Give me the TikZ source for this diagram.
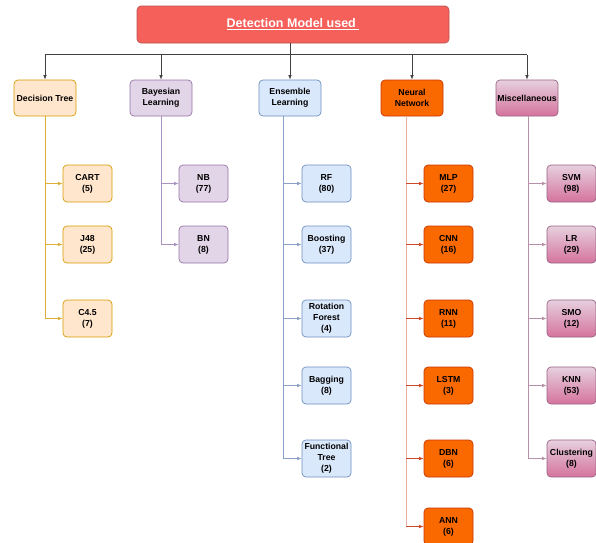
\documentclass[tikz,border=0pt]{standalone}
\usepackage{fontspec}
\setmainfont{Liberation Sans}
\usetikzlibrary{arrows.meta}
\definecolor{tfill}{HTML}{F6605A}
\definecolor{tdraw}{HTML}{B85450}
\definecolor{dtfill}{HTML}{FFE6CC}
\definecolor{dtdraw}{HTML}{D79B00}
\definecolor{dtline}{HTML}{DDAE3A}
\definecolor{blfill}{HTML}{E1D5E7}
\definecolor{bldraw}{HTML}{9673A6}
\definecolor{blline}{HTML}{A992C0}
\definecolor{elfill}{HTML}{DAE8FC}
\definecolor{eldraw}{HTML}{6C8EBF}
\definecolor{elline}{HTML}{8AA0C4}
\definecolor{nnfill}{HTML}{FA6800}
\definecolor{nndraw}{HTML}{C73500}
\definecolor{nntrunk}{HTML}{E8B0A0}
\definecolor{nnarrow}{HTML}{CC4A2A}
\definecolor{mctop}{HTML}{E6D0DE}
\definecolor{mcbot}{HTML}{D5739D}
\definecolor{mcdraw}{HTML}{996185}
\definecolor{mcline}{HTML}{B891A8}
\tikzset{
  box/.style={rectangle, rounded corners=4pt, inner sep=0pt, align=center, line width=0.7pt,
    font=\bfseries\fontsize{8.7}{11}\selectfont, text=black},
  cat/.style={box, minimum width=62pt, minimum height=36pt},
  leaf/.style={box, minimum width=49pt, minimum height=37pt},
  dtbox/.style={fill=dtfill, draw=dtdraw},
  blbox/.style={fill=blfill, draw=bldraw},
  elbox/.style={fill=elfill, draw=eldraw},
  nnbox/.style={fill=nnfill, draw=nndraw},
  mcbox/.style={top color=mctop, bottom color=mcbot, draw=mcdraw},
  conn/.style={line width=0.7pt},
  tip/.style={-{Latex[length=4.5pt,width=3.6pt]}},
}
\begin{document}
\begin{tikzpicture}[x=1pt,y=-1pt]
\useasboundingbox (0,0) rectangle (596,542);
% title
\node[box, fill=tfill, draw=tdraw, minimum width=312pt, minimum height=37pt, text=white,
  font=\bfseries\fontsize{12.5}{14}\selectfont] (title) at (293,24.5) {\underline{Detection Model used\ }};
% categories
\node[cat, dtbox] (dt) at (45,98) {Decision Tree};
\node[cat, blbox] (bl) at (161,98) {Bayesian\\Learning};
\node[cat, elbox] (el) at (290,98) {Ensemble\\Learning};
\node[cat, nnbox] (nn) at (412,98) {Neural\\Network};
\node[cat, mcbox] (mc) at (527,98) {Miscellaneous};
% leaves: decision tree
\node[leaf, dtbox] (cart) at (87.5,183.5) {CART\\(5)};
\node[leaf, dtbox] (j48) at (87.5,244.5) {J48\\(25)};
\node[leaf, dtbox] (c45) at (87.5,318.5) {C4.5\\(7)};
% bayesian
\node[leaf, blbox] (nb) at (203.5,183.5) {NB\\(77)};
\node[leaf, blbox] (bn) at (203.5,244.5) {BN\\(8)};
% ensemble
\node[leaf, elbox] (rf) at (326.5,183.5) {RF\\(80)};
\node[leaf, elbox] (boost) at (326.5,244.5) {Boosting\\(37)};
\node[leaf, elbox] (rot) at (326.5,318.5) {Rotation\\Forest\\(4)};
\node[leaf, elbox] (bag) at (326.5,385.5) {Bagging\\(8)};
\node[leaf, elbox] (ft) at (326.5,458.5) {Functional\\Tree\\(2)};
% neural
\node[leaf, nnbox] (mlp) at (448.5,183.5) {MLP\\(27)};
\node[leaf, nnbox] (cnn) at (448.5,244.5) {CNN\\(16)};
\node[leaf, nnbox] (rnn) at (448.5,318.5) {RNN\\(11)};
\node[leaf, nnbox] (lstm) at (448.5,385.5) {LSTM\\(3)};
\node[leaf, nnbox] (dbn) at (448.5,458.5) {DBN\\(6)};
\node[leaf, nnbox] (ann) at (448.5,526.5) {ANN\\(6)};
% misc
\node[leaf, mcbox] (svm) at (571.5,183.5) {SVM\\(98)};
\node[leaf, mcbox] (lr) at (571.5,244.5) {LR\\(29)};
\node[leaf, mcbox] (smo) at (571.5,318.5) {SMO\\(12)};
\node[leaf, mcbox] (knn) at (571.5,385.5) {KNN\\(53)};
\node[leaf, mcbox] (clu) at (571.5,458.5) {Clustering\\(8)};
% top connectors
\coordinate (hl) at (0,54.5);
\draw[conn, draw=black!75] (title.south -| el) -- (hl -| el);
\draw[conn, draw=black!75] (hl -| dt) -- (hl -| mc);
\foreach \c in {dt,bl,el,nn,mc} \draw[conn, tip, draw=black!75] (hl -| \c) -- (\c.north);
% branch connectors
\foreach \l in {cart,j48,c45} \draw[conn, tip, draw=dtline] (dt.south) |- (\l.west);
\foreach \l in {nb,bn} \draw[conn, tip, draw=blline] (bl.south) |- (\l.west);
\foreach \l in {rf,boost,rot,bag,ft} \draw[conn, tip, draw=elline] ([xshift=-7pt]el.south) |- (\l.west);
\draw[conn, draw=nntrunk] ([xshift=-6pt]nn.south) -- ([xshift=-6pt]nn.south |- ann.west);
\foreach \l in {mlp,cnn,rnn,lstm,dbn,ann} \draw[conn, tip, draw=nnarrow] ([xshift=-6pt]nn.south |- \l.west) -- (\l.west);
\foreach \l in {svm,lr,smo,knn,clu} \draw[conn, tip, draw=mcline] ([xshift=1pt]mc.south) |- (\l.west);
\end{tikzpicture}
\end{document}
